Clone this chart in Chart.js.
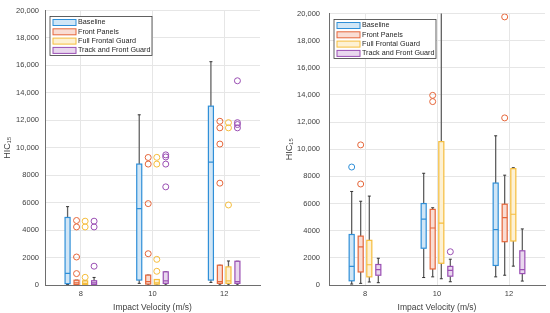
<!doctype html>
<html>
<head>
<meta charset="utf-8" />
<title>HIC15 box plots</title>
<script src="https://cdn.jsdelivr.net/npm/chart.js@4.4.0/dist/chart.umd.min.js"></script>
<style>
  body { margin: 0; background: #fff; }
  .wrap { display: flex; width: 550px; height: 313px; }
  .panel { width: 275px; height: 313px; position: relative; }
</style>
</head>
<body>
<div class="wrap">
  <div class="panel"><canvas id="chart1" width="275" height="313"></canvas></div>
  <div class="panel"><canvas id="chart2" width="275" height="313"></canvas></div>
</div>
<script>
var velocities = [8, 10, 12];
var seriesNames = ['Baseline', 'Front Panels', 'Full Frontal Guard', 'Track and Front Guard'];
var seriesColors = ['#2f8fd8', '#e5663a', '#f5bd3c', '#9a4fb3'];
var seriesFills = ['rgba(47,143,216,0.22)', 'rgba(229,102,58,0.22)', 'rgba(245,189,60,0.22)', 'rgba(154,79,179,0.22)'];
var yTicks = [0, 2000, 4000, 6000, 8000, 10000, 12000, 14000, 16000, 18000, 20000];

// [min, q1, median, q3, max] at 8, 10, 12 m/s
var leftBaseline = [[30, 100, 850, 4920, 5710], [120, 360, 5570, 8810, 12400], [190, 360, 8950, 13030, 16270]];
var leftFront    = [[0, 30, 150, 350, 350], [0, 70, 250, 720, 720], [0, 120, 240, 1440, 1440]];
var leftFull     = [[0, 30, 120, 300, 300], [0, 60, 150, 400, 400], [0, 120, 300, 1320, 1750]];
var leftTrack    = [[0, 40, 150, 310, 550], [0, 120, 300, 960, 960], [0, 120, 250, 1730, 1730]];

var leftBaselineOut = [[], [], []];
var leftFrontOut    = [[4700, 4230, 2040, 830], [9290, 8810, 5930, 2280], [11930, 11450, 10270, 7420]];
var leftFullOut     = [[4650, 4230, 560], [9300, 8810, 1870, 1000], [11830, 11450, 5830]];
var leftTrackOut    = [[4650, 4230, 1370], [9480, 9330, 8810, 7150], [14880, 11830, 11690, 11450]];

var rightBaseline = [[70, 310, 1370, 3720, 6890], [550, 2710, 4850, 6000, 8230], [600, 1440, 4080, 7510, 10990]];
var rightFront    = [[120, 960, 2810, 3600, 6170], [600, 1180, 4200, 5570, 5690], [720, 3190, 4970, 5950, 8090]];
var rightFull     = [[220, 600, 1490, 3290, 6550], [460, 1600, 4560, 10560, 26000], [1390, 3240, 5210, 8570, 8640]];
var rightTrack    = [[170, 720, 1130, 1510, 1970], [240, 650, 1080, 1370, 1900], [290, 840, 1130, 2520, 4130]];

var rightBaselineOut = [[8690], [], []];
var rightFrontOut    = [[10320, 7440], [13970, 13510], [19750, 12310]];
var rightFullOut     = [[], [], []];
var rightTrackOut    = [[], [2450], []];

var offsets = [-0.37, -0.12, 0.12, 0.37];
var boxW = 0.14;
var FONT = "'Liberation Sans', Arial, sans-serif";

function boxPlugin(stats) {
  return {
    id: 'boxes',
    beforeDatasetsDraw: function(chart) {
      var ctx = chart.ctx, x = chart.scales.x, y = chart.scales.y, a = chart.chartArea;
      ctx.save();
      ctx.beginPath();
      ctx.rect(a.left, a.top, a.right - a.left, a.bottom - a.top);
      ctx.clip();
      stats.forEach(function(ser, s) {
        ser.forEach(function(st, i) {
          var c = velocities[i] + offsets[s];
          var cx = x.getPixelForValue(c);
          var l = x.getPixelForValue(c - boxW / 2), r = x.getPixelForValue(c + boxW / 2);
          var pMin = y.getPixelForValue(st[0]), pQ1 = y.getPixelForValue(st[1]);
          var pMed = y.getPixelForValue(st[2]), pQ3 = y.getPixelForValue(st[3]);
          var pMax = y.getPixelForValue(st[4]);
          // whiskers
          ctx.strokeStyle = '#626262';
          ctx.lineWidth = 1.3;
          ctx.beginPath();
          ctx.moveTo(cx, pMin); ctx.lineTo(cx, pQ1);
          ctx.moveTo(cx, pQ3); ctx.lineTo(cx, pMax);
          ctx.stroke();
          ctx.strokeStyle = '#333';
          ctx.lineWidth = 1;
          ctx.beginPath();
          ctx.moveTo(cx - 1.5, pMin); ctx.lineTo(cx + 1.5, pMin);
          ctx.moveTo(cx - 1.5, pMax); ctx.lineTo(cx + 1.5, pMax);
          ctx.stroke();
          // box
          ctx.fillStyle = '#fff';
          ctx.fillRect(l, pQ3, r - l, pQ1 - pQ3);
          ctx.fillStyle = seriesFills[s];
          ctx.fillRect(l, pQ3, r - l, pQ1 - pQ3);
          ctx.strokeStyle = seriesColors[s];
          ctx.lineWidth = 1.2;
          ctx.strokeRect(l, pQ3, r - l, pQ1 - pQ3);
          ctx.beginPath();
          ctx.moveTo(l, pMed); ctx.lineTo(r, pMed);
          ctx.stroke();
        });
      });
      ctx.restore();
    }
  };
}

var legendPlugin = {
  id: 'boxLegend',
  afterDraw: function(chart) {
    var ctx = chart.ctx, a = chart.chartArea;
    var fx = a.left + 5, fy = a.top + 6, fw = 102, fh = 39;
    ctx.save();
    ctx.fillStyle = '#fff';
    ctx.fillRect(fx, fy, fw, fh);
    ctx.strokeStyle = '#3a3a3a';
    ctx.lineWidth = 0.8;
    ctx.strokeRect(fx, fy, fw, fh);
    ctx.font = '7.2px ' + FONT;
    ctx.textBaseline = 'middle';
    seriesNames.forEach(function(name, s) {
      var cy = fy + 6 + s * 9.3;
      ctx.fillStyle = seriesFills[s];
      ctx.fillRect(fx + 3, cy - 3, 23, 6);
      ctx.strokeStyle = seriesColors[s];
      ctx.lineWidth = 1;
      ctx.strokeRect(fx + 3, cy - 3, 23, 6);
      ctx.fillStyle = '#262626';
      ctx.fillText(name, fx + 28, cy);
    });
    ctx.restore();
  }
};

function makeChart(id, stats, outs, axisW, tickPad, titlePad, rightPad) {
  var datasets = seriesNames.map(function(name, s) {
    var pts = [];
    velocities.forEach(function(v, i) {
      outs[s][i].forEach(function(val) { pts.push({ x: v + offsets[s], y: val }); });
    });
    return {
      label: name,
      data: pts,
      borderColor: seriesColors[s],
      backgroundColor: 'rgba(0,0,0,0)',
      pointRadius: 3,
      pointBorderWidth: 1,
      pointHoverRadius: 3
    };
  });
  return new Chart(document.getElementById(id), {
    type: 'scatter',
    data: { datasets: datasets },
    options: {
      responsive: false,
      animation: false,
      layout: { padding: { top: 7, right: rightPad, left: 0, bottom: 0 } },
      plugins: { legend: { display: false }, tooltip: { enabled: false } },
      scales: {
        x: {
          type: 'linear', min: 7, max: 13,
          afterBuildTicks: function(sc) { sc.ticks = velocities.map(function(v) { return { value: v }; }); },
          afterFit: function(sc) { sc.height = 28; },
          grid: { color: '#e6e6e6', drawTicks: false },
          border: { color: '#6e6e6e', width: 1 },
          ticks: { color: '#404040', font: { family: FONT, size: 7.5 }, padding: 4 },
          title: { display: true, text: 'Impact Velocity (m/s)', color: '#404040',
                   font: { family: FONT, size: 8.5 }, padding: { top: 0, bottom: 0 } }
        },
        y: {
          min: 0, max: 20000,
          afterBuildTicks: function(sc) { sc.ticks = yTicks.map(function(v) { return { value: v }; }); },
          afterFit: function(sc) { sc.width = axisW; },
          grid: { color: '#e6e6e6', drawTicks: false },
          border: { color: '#6e6e6e', width: 1 },
          ticks: {
            color: '#404040', font: { family: FONT, size: 7.5 }, padding: tickPad,
            callback: function(v) { return v >= 10000 ? v.toLocaleString('en-US') : String(v); }
          },
          title: { display: true, text: 'HIC\u2081\u2085', color: '#404040',
                   font: { family: FONT, size: 9 }, padding: { top: titlePad, bottom: 0 } }
        }
      }
    },
    plugins: [boxPlugin(stats), legendPlugin]
  });
}

makeChart('chart1',
  [leftBaseline, leftFront, leftFull, leftTrack],
  [leftBaselineOut, leftFrontOut, leftFullOut, leftTrackOut], 45, 6, 2, 15);
makeChart('chart2',
  [rightBaseline, rightFront, rightFull, rightTrack],
  [rightBaselineOut, rightFrontOut, rightFullOut, rightTrackOut], 54, 9, 9, 5);
</script>
</body>
</html>
